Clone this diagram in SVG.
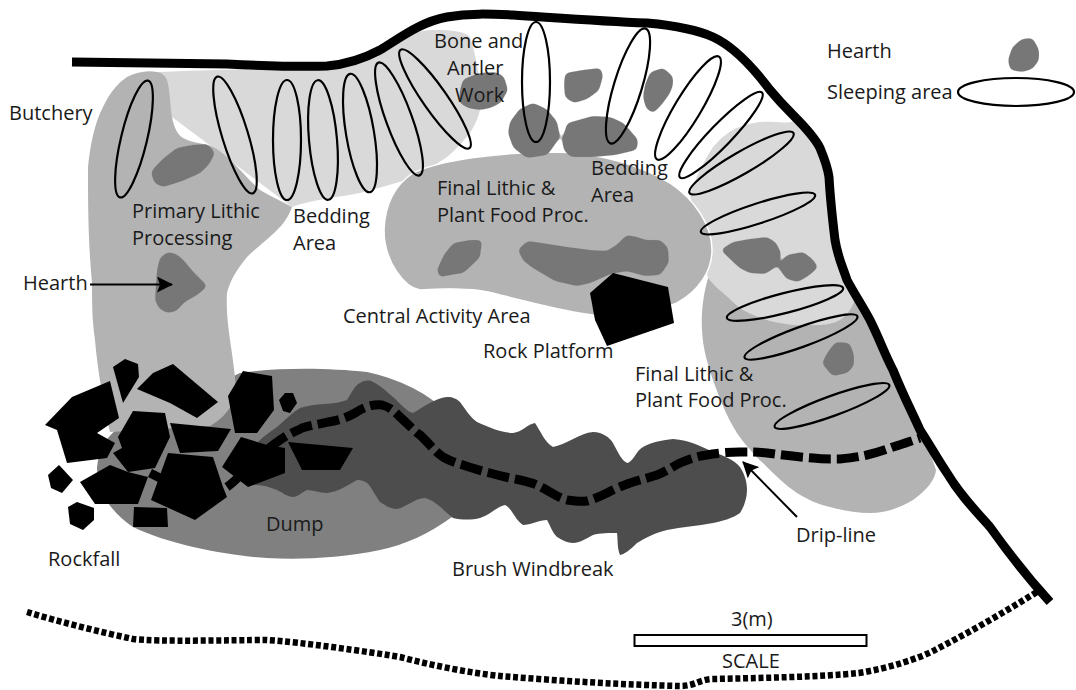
<svg xmlns="http://www.w3.org/2000/svg" width="1076" height="690" viewBox="0 0 1076 690">
<style>
text{font-family:"Open Sans","Noto Sans","Liberation Sans",sans-serif;font-size:20px;fill:#1a1a1a}
.h polygon{fill:#777;stroke:#777;stroke-width:2;stroke-linejoin:round}
.r polygon{fill:#000}
.s{fill:none;stroke:#000;stroke-width:2.2}
.a{fill:none;stroke:#000;stroke-width:2}
</style>
<defs>
<marker id="ah" viewBox="0 0 16 16" refX="15" refY="8" markerWidth="16" markerHeight="16" markerUnits="userSpaceOnUse" orient="auto"><path d="M0 0L16 8L0 16L3 8Z" fill="#000"/></marker>
<filter id="soft" x="-5%" y="-5%" width="110%" height="110%" color-interpolation-filters="sRGB"><feGaussianBlur stdDeviation="2.5"/><feComponentTransfer><feFuncA type="linear" slope="6" intercept="-2.5"/></feComponentTransfer></filter>
</defs>
<rect width="1076" height="690" fill="#fff"/>
<g id="areas">
<path id="dump" fill="#808080" d="M97 468C100 440 115 425 140 420L240 373C280 367 330 368 367 372C395 378 420 390 435 402C455 430 470 490 452 517C430 533 405 545 380 550C340 558 300 560 267 558C230 556 170 545 133 527C115 515 97 495 97 468Z"/>
<path id="bedding-left" fill="#d9d9d9" d="M157 72C200 70 280 68 330 68C350 62 375 48 400 38C415 31 425 30 437 30C455 30 465 32 470 37C476 55 480 80 482 100C480 115 475 125 470 133C460 145 455 150 447 157C435 165 425 172 413 177C400 183 380 187 360 193C340 197 310 200 292 207L172 117Z"/>
<path id="primary-lithic" fill="#b3b3b3" d="M127 77C137 72 147 70 157 72C163 73 166 77 167 80C170 90 170 105 172 117C174 128 178 135 183 138C195 144 205 143 213 147C225 153 235 165 243 173C252 183 258 188 260 190C272 197 283 202 292 207C290 213 285 222 280 227C270 238 258 246 247 257C238 268 230 280 227 293C226 310 228 325 230 340C233 360 236 380 236 395C234 405 222 420 210 426L110 432C105 410 98 375 95 340C92 320 92 300 92 283C88 240 88 200 88 167C90 145 95 122 103 107C110 92 118 83 127 77Z"/>
<path id="final-right" fill="#b3b3b3" d="M708 278C703 295 701 315 702 330C703 350 708 365 713 380C720 400 730 425 742 440C750 450 757 458 763 463C775 475 785 485 797 493C808 500 820 505 830 507C845 511 858 513 870 513C885 513 900 508 913 500C927 490 935 480 936 470C933 460 928 450 925 438C900 390 880 340 858 298L760 270Z"/>
<path id="bedding-right" fill="#d9d9d9" d="M690 195C695 178 703 163 713 147C722 137 730 130 740 127C750 123 762 121 773 122C782 122 790 124 795 120C805 130 815 140 822 150C828 165 830 200 834 235C838 260 848 285 855 300C850 312 845 317 840 320C830 325 822 325 813 325C795 326 780 324 767 320C757 317 750 314 743 310C735 305 729 298 723 293C717 288 713 284 708 278Z"/>
<path id="final-center" fill="#b3b3b3" stroke="#fff" stroke-width="1.5" d="M384 230C385 205 395 185 413 173C440 160 500 152 557 152C600 153 640 165 670 183C695 200 712 225 712 250C712 270 700 290 677 303C650 315 620 316 593 315C565 312 530 302 500 295C480 288 450 288 420 290C405 288 384 262 384 230Z"/>
<path id="windbreak" fill="#4d4d4d" d="M247 485C240 470 248 452 257 443C265 435 270 432 277 427C285 420 292 413 300 408C315 403 335 405 347 400C352 392 355 385 360 383C365 380 370 380 373 382C380 385 387 392 393 397C400 403 407 412 413 413C422 408 435 398 447 397C453 397 457 399 460 402C466 410 470 417 477 422C490 428 503 433 513 433C522 432 528 424 535 423C540 430 545 443 553 447C565 445 580 433 593 432C603 432 610 438 613 443C618 452 622 462 628 463C634 460 637 450 643 447C652 442 663 440 673 439C690 440 702 447 713 452C725 456 734 460 740 467C745 475 747 482 747 490C747 498 744 507 740 513C733 518 723 521 713 523C697 526 682 527 667 530C655 533 645 538 637 543C630 550 625 554 620 555C617 548 618 540 617 533C610 533 600 533 593 535C585 539 580 543 573 543C568 543 562 540 557 537C552 532 550 525 547 520C540 520 530 525 523 525C515 520 512 508 505 505C498 506 490 515 480 518C472 520 462 520 453 518C445 512 435 500 425 498C415 498 405 508 397 509C390 509 385 505 380 502C375 495 370 485 367 483C362 480 360 480 357 480C348 485 338 492 327 493C320 493 313 490 307 490C302 492 298 497 293 497C288 497 283 493 277 490C268 486 257 484 247 485Z"/>
</g>
<g id="hearths" class="h" filter="url(#soft)">
<polygon points="1009,60 1013,48 1022,40 1032,39 1038,50 1038,60 1032,68 1022,71 1011,69"/>
<polygon points="152,172 163,160 177,149 192,146 207,145 214,153 208,164 200,172 182,180 163,186 155,182"/>
<polygon points="168,253 176,255 182,260 192,272 206,286 197,294 183,302 176,310 168,312 160,308 156,300 157,285 158,270 161,258"/>
<polygon points="460,102 461,90 464,80 480,74 495,73 503,77 507,90 500,102 490,107 480,109 468,107"/>
<polygon points="566,74 583,71 600,69 602,76 598,90 587,98 574,102 566,97 565,85"/>
<polygon points="509,133 511,122 520,110 533,104 546,110 556,122 559,137 547,154 527,157 514,147"/>
<polygon points="563,140 568,124 593,117 610,118 623,124 637,140 636,149 615,154 593,156 571,156 565,150"/>
<polygon points="644,97 646,85 651,73 663,69 672,77 672,85 669,93 661,104 653,112 647,108"/>
<polygon points="438,270 445,255 454,244 470,241 481,241 479,257 463,272 450,274 440,276"/>
<polygon points="519,250 528,242 548,245 567,248 590,251 607,252 618,245 627,236 637,238 645,241 660,241 667,248 668,262 660,274 645,275 627,270 610,273 590,282 577,285 555,280 533,267 524,260"/>
<polygon points="722,250 733,243 750,240 767,238 775,243 780,253 777,265 765,273 750,272 740,267"/>
<polygon points="779,267 787,256 803,253 812,260 817,267 808,275 798,281 787,278"/>
<polygon points="823,363 829,352 836,343 849,344 853,355 853,365 847,372 833,375"/>
</g>
<g id="rocks" class="r">
<polygon points="590,293 613,273 668,287 674,323 607,346 595,320"/>
<polygon points="113,367 125,359 138,364 139,377 123,403"/>
<polygon points="137,389 153,373 173,364 218,402 197,418 170,403"/>
<polygon points="45,425 72,397 110,381 119,418 97,433 115,443 107,458 67,463 57,430"/>
<polygon points="133,411 165,413 170,437 155,468 128,472 113,453 122,448 118,437"/>
<polygon points="170,423 231,429 218,451 180,453"/>
<polygon points="228,396 243,371 272,376 274,410 257,433 235,433"/>
<polygon points="279,400 285,393 293,393 297,403 290,413 283,411"/>
<polygon points="80,482 110,465 128,472 148,477 138,504 95,504"/>
<polygon points="48,475 59,465 73,480 62,493 51,488"/>
<polygon points="68,507 77,502 94,508 94,520 83,530 70,524"/>
<polygon points="134,507 167,508 168,527 133,527"/>
<polygon points="151,500 168,453 213,457 223,487 227,497 195,520"/>
<polygon points="222,467 241,437 267,445 285,448 285,473 248,487"/>
<polygon points="288,442 353,448 340,470 302,470"/>
</g>
<g id="sleeping" class="s">
<ellipse cx="1016" cy="92" rx="58" ry="14"/>
<ellipse cx="134" cy="139" rx="13" ry="60" transform="rotate(13.5 134 139)"/>
<ellipse cx="235" cy="135" rx="13" ry="61" transform="rotate(-17 235 135)"/>
<ellipse cx="287" cy="140" rx="14" ry="60"/>
<ellipse cx="323" cy="140" rx="14" ry="60" transform="rotate(-5 323 140)"/>
<ellipse cx="360" cy="133" rx="14" ry="60" transform="rotate(-9.5 360 133)"/>
<ellipse cx="399" cy="119" rx="13" ry="60" transform="rotate(-20 399 119)"/>
<ellipse cx="435" cy="99" rx="12" ry="60" transform="rotate(-35 435 99)"/>
<ellipse cx="536" cy="82" rx="14" ry="60"/>
<ellipse cx="628" cy="86" rx="14" ry="60" transform="rotate(17 628 86)"/>
<ellipse cx="688" cy="108" rx="13" ry="60" transform="rotate(31 688 108)"/>
<ellipse cx="721" cy="135" rx="11" ry="59" transform="rotate(44 721 135)"/>
<ellipse cx="741.500" cy="163" rx="11" ry="60" transform="rotate(60 741.500 163)"/>
<ellipse cx="758" cy="213.500" rx="10" ry="60" transform="rotate(72 758 213.500)"/>
<ellipse cx="785" cy="303" rx="10" ry="60" transform="rotate(75.500 785 303)"/>
<ellipse cx="801" cy="337" rx="10" ry="60" transform="rotate(70 801 337)"/>
<ellipse cx="832" cy="406" rx="10" ry="61" transform="rotate(70 832 406)"/>
</g>
<g id="connectors">
<path id="wall" d="M72 62L227 64C270 66 300 67 327 66C350 64 365 58 380 50C400 38 420 22 447 17C470 13 490 14 513 15C560 18 600 21 647 23C680 26 700 31 713 37C735 47 755 70 770 90C780 102 785 107 793 115C805 127 815 138 820 148C825 160 828 170 829 177C830 195 832 215 835 240C838 258 842 265 847 280C855 295 862 305 870 320C880 340 885 355 893 370C903 395 912 412 920 430C930 445 938 460 947 473C960 495 975 510 990 527C1010 555 1030 580 1050 602" fill="none" stroke="#000" stroke-width="9"/>
<path id="drip-line" d="M150 473L160 478M227 487C240 478 258 455 280 440C290 433 297 431 302 428C312 425 320 424 328 422C340 420 348 417 355 413C362 408 372 404 382 405C390 407 395 412 400 417C407 423 413 430 420 435C428 442 435 452 443 457C450 461 456 463 463 465C472 468 481 471 490 473C500 476 510 478 520 480C529 482 536 484 543 488C552 493 559 498 567 500C574 501 581 502 587 501C594 499 601 496 607 493C614 489 622 486 630 483C639 480 648 478 657 475C665 472 672 467 680 463C689 459 698 456 707 455C717 453 730 452 740 452C750 452 758 452 767 453C782 455 798 457 813 458C822 459 831 459 840 459C850 458 858 457 867 455C876 453 885 450 893 447C903 444 911 441 920 438" fill="none" stroke="#000" stroke-width="9" stroke-dasharray="22 6"/>
<path id="ground" d="M27 612C60 622 100 632 133 639C160 642 230 640 267 640C300 642 370 652 400 657C430 665 470 673 500 676C560 681 630 685 680 686C695 686 698 680 712 679C760 678 820 677 859 673C890 668 920 658 935 650C970 632 1005 612 1040 590" fill="none" stroke="#000" stroke-width="6.500" stroke-dasharray="5 2.700"/>
<path class="a" d="M90 284.500H172" marker-end="url(#ah)"/>
<path class="a" d="M797 517L743 462" marker-end="url(#ah)"/>
</g>
<rect id="scale" x="634.500" y="635" width="232" height="11" fill="#fff" stroke="#000" stroke-width="2"/>
<g id="labels">
<text x="9" y="120">Butchery</text>
<text x="132" y="218">Primary Lithic</text>
<text x="132" y="245">Processing</text>
<text x="23" y="290">Hearth</text>
<text x="293" y="223">Bedding</text>
<text x="293" y="250">Area</text>
<text x="434" y="48">Bone and</text>
<text x="447" y="75">Antler</text>
<text x="455" y="102">Work</text>
<text x="437" y="195">Final Lithic &amp;</text>
<text x="437" y="222">Plant Food Proc.</text>
<text x="591" y="175">Bedding</text>
<text x="591" y="202">Area</text>
<text x="343" y="323">Central Activity Area</text>
<text x="483" y="358">Rock Platform</text>
<text x="635" y="381">Final Lithic &amp;</text>
<text x="635" y="407">Plant Food Proc.</text>
<text x="48" y="566">Rockfall</text>
<text x="266" y="531">Dump</text>
<text x="452" y="576">Brush Windbreak</text>
<text x="796" y="542">Drip-line</text>
<text x="827" y="58">Hearth</text>
<text x="827" y="99">Sleeping area</text>
<text x="731" y="626">3(m)</text>
<text x="722" y="668">SCALE</text>
</g>
</svg>
